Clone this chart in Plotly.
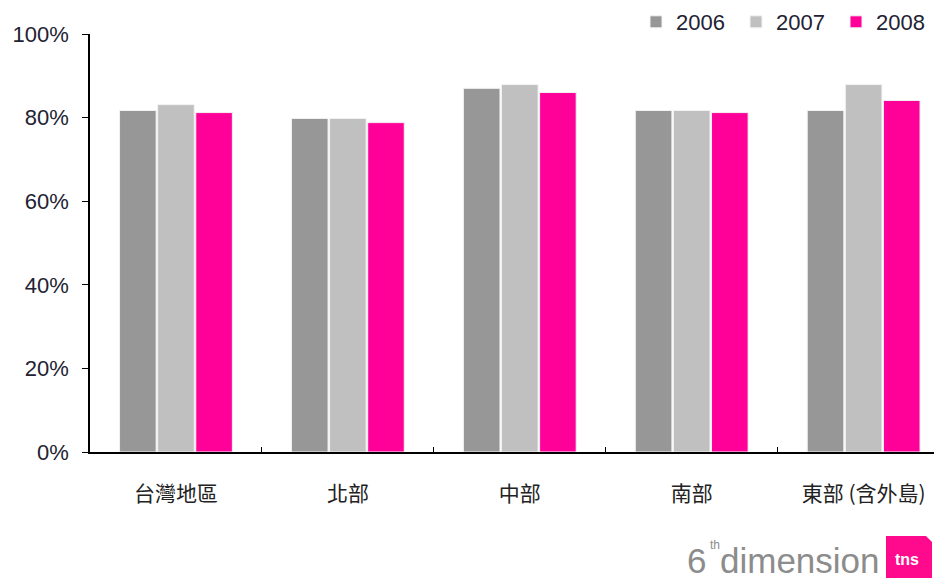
import plotly.graph_objects as go

categories = ["台灣地區", "北部", "中部", "南部", "東部 (含外島)"]
years = ["2006", "2007", "2008"]
v2006 = [81.7, 79.8, 87.0, 81.7, 81.7]
v2007 = [83.1, 79.8, 87.9, 81.7, 87.9]
v2008 = [81.2, 78.8, 86.0, 81.2, 84.1]
colors = ["#979797", "#c0c0c0", "#ff0099"]
ytickvals = [0, 20, 40, 60, 80, 100]
yticktext = ["0%", "20%", "40%", "60%", "80%", "100%"]

fig = go.Figure()
for name, vals, c in zip(years, [v2006, v2007, v2008], colors):
    fig.add_trace(go.Bar(
        x=categories, y=vals, name=name,
        marker=dict(color=c, line=dict(color="#f2f2f2", width=1)),
    ))

# page has an 8px body margin; figure size compensates
OFF = 8
W, H = 942 - OFF, 581 - OFF
L, T = 90 - OFF, 34 - OFF
R = W - (941 - OFF)
B = H - (452 - OFF)
pw, ph = W - L - R, H - T - B


def px(x):  # page pixel -> paper x
    return (x - OFF - L) / pw


def py(y):  # page pixel -> paper y
    return (H - B - (y - OFF)) / ph


fig.update_layout(
    width=W, height=H,
    margin=dict(l=L, r=R, t=T, b=B, autoexpand=False),
    paper_bgcolor="white", plot_bgcolor="white",
    barmode="group", bargap=0.335, bargroupgap=0.04,
    font=dict(family="Liberation Sans, Arial, sans-serif", size=22, color="#222233"),
    showlegend=True,
    legend=dict(orientation="h", x=px(636), xanchor="left", y=py(1), yanchor="top",
                xref="paper", yref="paper",
                font=dict(size=22), traceorder="normal",
                itemwidth=30, entrywidth=55, bgcolor="rgba(0,0,0,0)"),
    xaxis=dict(
        range=[-0.5, 4.45], showline=True, linecolor="#000", linewidth=1.5,
        ticks="inside", ticklen=5, tickcolor="#000", tickson="boundaries",
        showgrid=False, zeroline=False,
        tickfont=dict(family="Noto Sans CJK TC, sans-serif", size=21, color="#222"),
        ticklabelstandoff=22,
    ),
    yaxis=dict(
        range=[0, 100], tickvals=ytickvals, ticktext=yticktext,
        showline=True, linecolor="#000", linewidth=1.5,
        ticks="outside", ticklen=6, tickcolor="#000",
        showgrid=False, zeroline=False, ticklabelstandoff=9,
        tickfont=dict(size=22, color="#222233"),
    ),
)

logo_font = "Liberation Sans Narrow, Liberation Sans, sans-serif"
fig.add_annotation(
    xref="paper", yref="paper", x=px(685), y=py(560), xanchor="left", yanchor="middle",
    showarrow=False, text="6",
    font=dict(family=logo_font, size=35, color="#8c8c8c"),
)
fig.add_annotation(
    xref="paper", yref="paper", x=px(708), y=py(545), xanchor="left", yanchor="middle",
    showarrow=False, text="th",
    font=dict(family=logo_font, size=12, color="#8c8c8c"),
)
fig.add_annotation(
    xref="paper", yref="paper", x=px(718), y=py(560), xanchor="left", yanchor="middle",
    showarrow=False, text="dimension",
    font=dict(family=logo_font, size=35, color="#8c8c8c"),
)
fig.add_shape(
    type="path", xref="paper", yref="paper",
    path="M {x0} {y0} L {x1} {y0} L {x1} {y2} L {x3} {y1} L {x0} {y1} Z".format(
        x0=px(886), x1=px(932), x3=px(926),
        y0=py(578), y1=py(536), y2=py(542)),
    fillcolor="#ff0a8c", line=dict(width=0),
)
fig.add_annotation(
    xref="paper", yref="paper", x=px(907), y=py(559),
    xanchor="center", yanchor="middle", showarrow=False, text="<b>tns</b>",
    font=dict(family="Liberation Sans, sans-serif", size=16, color="white"),
)

fig.write_html("out.html")
